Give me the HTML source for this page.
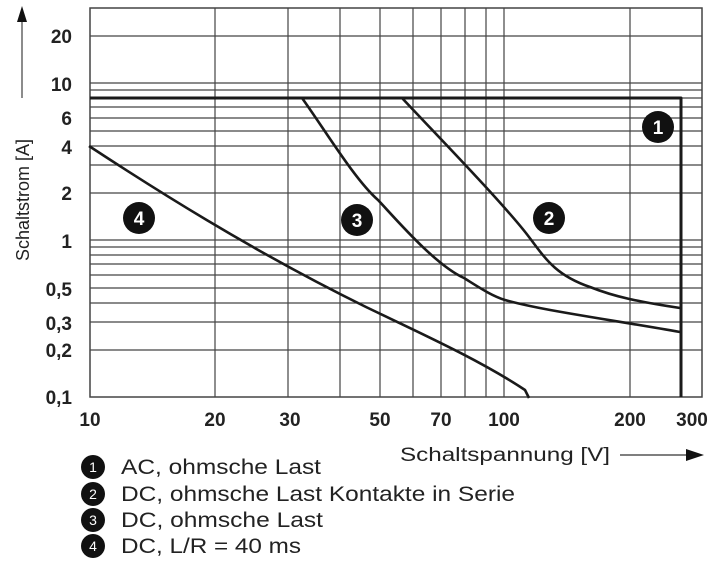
<!DOCTYPE html>
<html><head><meta charset="utf-8"><style>body{margin:0;background:#fff}svg{display:block}</style></head><body>
<svg width="720" height="567" viewBox="0 0 720 567" xmlns="http://www.w3.org/2000/svg" font-family="Liberation Sans, Arial, sans-serif">
<rect width="720" height="567" fill="#fff"/>
<g stroke="#444" stroke-width="1.2" fill="none">
<line x1="90" x2="702" y1="350" y2="350"/><line x1="90" x2="702" y1="322" y2="322"/><line x1="90" x2="702" y1="303" y2="303"/><line x1="90" x2="702" y1="288" y2="288"/><line x1="90" x2="702" y1="275" y2="275"/><line x1="90" x2="702" y1="264" y2="264"/><line x1="90" x2="702" y1="255" y2="255"/><line x1="90" x2="702" y1="247" y2="247"/><line x1="90" x2="702" y1="240" y2="240"/>
<line x1="90" x2="702" y1="193" y2="193"/><line x1="90" x2="702" y1="165" y2="165"/><line x1="90" x2="702" y1="146" y2="146"/><line x1="90" x2="702" y1="131" y2="131"/><line x1="90" x2="702" y1="118" y2="118"/><line x1="90" x2="702" y1="107" y2="107"/><line x1="90" x2="702" y1="98" y2="98"/><line x1="90" x2="702" y1="90" y2="90"/><line x1="90" x2="702" y1="83" y2="83"/>
<line x1="90" x2="702" y1="36" y2="36"/>
<line x1="215" x2="215" y1="8" y2="397"/><line x1="288" x2="288" y1="8" y2="397"/><line x1="340" x2="340" y1="8" y2="397"/><line x1="380" x2="380" y1="8" y2="397"/><line x1="413" x2="413" y1="8" y2="397"/><line x1="441" x2="441" y1="8" y2="397"/><line x1="465" x2="465" y1="8" y2="397"/><line x1="486" x2="486" y1="8" y2="397"/><line x1="504" x2="504" y1="8" y2="397"/><line x1="630" x2="630" y1="8" y2="397"/>
<rect x="90" y="8" width="612" height="389" stroke-width="1.5"/>
</g>
<g stroke="#1a1a1a" stroke-width="2.6" fill="none" stroke-linejoin="round">
<polyline points="90,98 681,98 681,397" stroke-width="3"/>
<path d="M302,98 C325,130 355,180 378,200 C395,218 435,265 464,278 C480,288 492,296 505,300 C540,310 600,318 680,332"/>
<path d="M402,98 C430,128 505,205 529,237 C545,258 555,275 590,287 C615,297 640,302 680,308"/>
<path d="M89,146 C150,186 250,250 366,307 C420,333 480,360 525,390 L529,398"/>
</g>
<g font-size="19" font-weight="bold" fill="#fff" text-anchor="middle">
<circle cx="658" cy="127" r="16" fill="#111"/><text x="658" y="134">1</text>
<circle cx="549" cy="218" r="16" fill="#111"/><text x="549" y="225">2</text>
<circle cx="357" cy="220" r="16" fill="#111"/><text x="357" y="227">3</text>
<circle cx="139" cy="218" r="16" fill="#111"/><text x="139" y="225">4</text>
</g>
<g font-size="19" font-weight="bold" fill="#222" text-anchor="end">
<text x="72" y="43">20</text><text x="72" y="91">10</text><text x="72" y="125">6</text><text x="72" y="154">4</text><text x="72" y="200">2</text><text x="72" y="248">1</text><text x="72" y="296">0,5</text><text x="72" y="330">0,3</text><text x="72" y="357">0,2</text><text x="72" y="404">0,1</text>
</g>
<g font-size="19" font-weight="bold" fill="#222" text-anchor="middle">
<text x="90" y="426">10</text><text x="215" y="426">20</text><text x="290" y="426">30</text><text x="380" y="426">50</text><text x="441" y="426">70</text><text x="504" y="426">100</text><text x="630" y="426">200</text><text x="692" y="426">300</text>
</g>
<text transform="translate(29,200) rotate(-90)" font-size="18" fill="#222" text-anchor="middle">Schaltstrom [A]</text>
<line x1="22" y1="98" x2="22" y2="20" stroke="#666" stroke-width="1.5"/>
<polygon points="22,6 17,22 27,22" fill="#111"/>
<text x="400" y="461" font-size="19" fill="#222" textLength="210" lengthAdjust="spacingAndGlyphs">Schaltspannung [V]</text>
<line x1="620" y1="455" x2="688" y2="455" stroke="#333" stroke-width="1.3"/>
<polygon points="704,455 686,449 686,461" fill="#111"/>
<g font-size="21" fill="#222">
<circle cx="93" cy="467" r="12" fill="#111"/><text x="93" y="472" fill="#fff" font-size="14" text-anchor="middle">1</text>
<text x="121" y="474" textLength="200" lengthAdjust="spacingAndGlyphs">AC, ohmsche Last</text>
<circle cx="93" cy="494" r="12" fill="#111"/><text x="93" y="499" fill="#fff" font-size="14" text-anchor="middle">2</text>
<text x="121" y="501" textLength="394" lengthAdjust="spacingAndGlyphs">DC, ohmsche Last Kontakte in Serie</text>
<circle cx="93" cy="520" r="12" fill="#111"/><text x="93" y="525" fill="#fff" font-size="14" text-anchor="middle">3</text>
<text x="121" y="527" textLength="202" lengthAdjust="spacingAndGlyphs">DC, ohmsche Last</text>
<circle cx="93" cy="546" r="12" fill="#111"/><text x="93" y="551" fill="#fff" font-size="14" text-anchor="middle">4</text>
<text x="121" y="553" textLength="180" lengthAdjust="spacingAndGlyphs">DC, L/R = 40 ms</text>
</g>
</svg>
</body></html>
